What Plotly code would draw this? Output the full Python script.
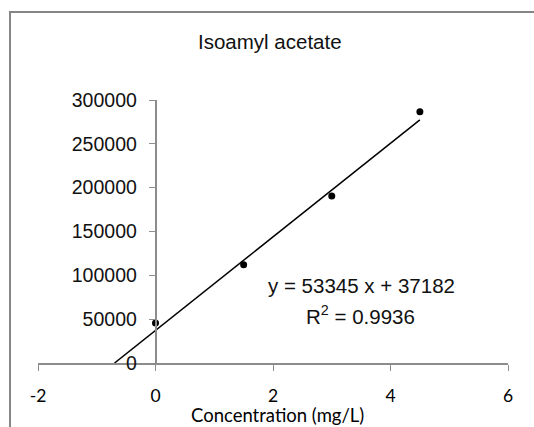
import numpy as np
import plotly.graph_objects as go

# Data
conc = [0, 1.5, 3, 4.5]
area = [45500, 112000, 190500, 286500]
slope = 53345
intercept = 37182
r2 = 0.9936
trend_x = [-intercept / slope, 4.5]
trend_y = [slope * x + intercept for x in trend_x]
x_ticks = [-2, 0, 2, 4, 6]
x_tick_labels = ["-2", "0", "2", "4", "6"]
y_ticks = [0, 50000, 100000, 150000, 200000, 250000, 300000]
y_tick_labels = [str(v) for v in y_ticks]

W, H = 534, 427
ml, mr, mt, mb = 38, 26, 100, 64
pw, ph = W - ml - mr, H - mt - mb

def px_to_paper_x(px):
    return (px - ml) / pw

def px_to_paper_y(py):
    return (H - mb - py) / ph

ARIAL = "Liberation Sans, Arial, sans-serif"
CALIBRI = "Lato, Open Sans, sans-serif"

fig = go.Figure()
fig.add_trace(go.Scatter(x=trend_x, y=trend_y, mode="lines",
                         line=dict(color="black", width=1.5), hoverinfo="skip"))
fig.add_trace(go.Scatter(x=conc, y=area, mode="markers",
                         marker=dict(color="black", size=7)))

fig.update_layout(
    width=W, height=H,
    margin=dict(l=ml, r=mr, t=mt, b=mb, autoexpand=False),
    paper_bgcolor="white", plot_bgcolor="white",
    showlegend=False,
    xaxis=dict(range=[-2, 6], tickvals=x_ticks, ticktext=x_tick_labels,
               showgrid=False, zeroline=False, automargin=False,
               showline=True, linecolor="#8c8c8c", linewidth=1.5,
               ticks="outside", ticklen=6, tickcolor="#8c8c8c",
               ticklabelstandoff=10,
               tickfont=dict(family=CALIBRI, size=17.5, color="black")),
    yaxis=dict(range=[0, 300000], tickvals=y_ticks, ticktext=y_tick_labels,
               showgrid=False, zeroline=False, automargin=False,
               anchor="free", position=0.25,
               showline=True, linecolor="#8c8c8c", linewidth=1.5,
               ticks="outside", ticklen=6, tickcolor="#8c8c8c",
               ticklabelstandoff=8,
               tickfont=dict(family=ARIAL, size=19.5, color="#111")),
    annotations=[
        dict(text="Isoamyl acetate", xref="paper", yref="paper",
             x=px_to_paper_x(270), y=px_to_paper_y(42), showarrow=False,
             xanchor="center", yanchor="middle",
             font=dict(family=ARIAL, size=20.5, color="#111")),
        dict(text=f"y = {slope} x + {intercept}", xref="paper", yref="paper",
             x=px_to_paper_x(361), y=px_to_paper_y(285), showarrow=False,
             xanchor="center", yanchor="middle",
             font=dict(family=ARIAL, size=20.5, color="#111")),
        dict(text=f"R<sup>2</sup> = {r2}", xref="paper", yref="paper",
             x=px_to_paper_x(360), y=px_to_paper_y(315), showarrow=False,
             xanchor="center", yanchor="middle",
             font=dict(family=ARIAL, size=20.5, color="#111")),
        dict(text="Concentration (mg/L)", xref="paper", yref="paper",
             x=px_to_paper_x(277), y=px_to_paper_y(415), showarrow=False,
             xanchor="center", yanchor="middle",
             font=dict(family=CALIBRI, size=18.5, color="black")),
    ],
    shapes=[
        dict(type="rect", xref="paper", yref="paper",
             x0=px_to_paper_x(10), x1=px_to_paper_x(W + 20),
             y0=px_to_paper_y(H + 20), y1=px_to_paper_y(12),
             line=dict(color="#868686", width=2), fillcolor="rgba(0,0,0,0)", layer="below"),
    ],
)

fig.write_html("out.html", config={"displayModeBar": False},
               post_script="document.body.style.margin='0';document.body.style.overflow='hidden';")
